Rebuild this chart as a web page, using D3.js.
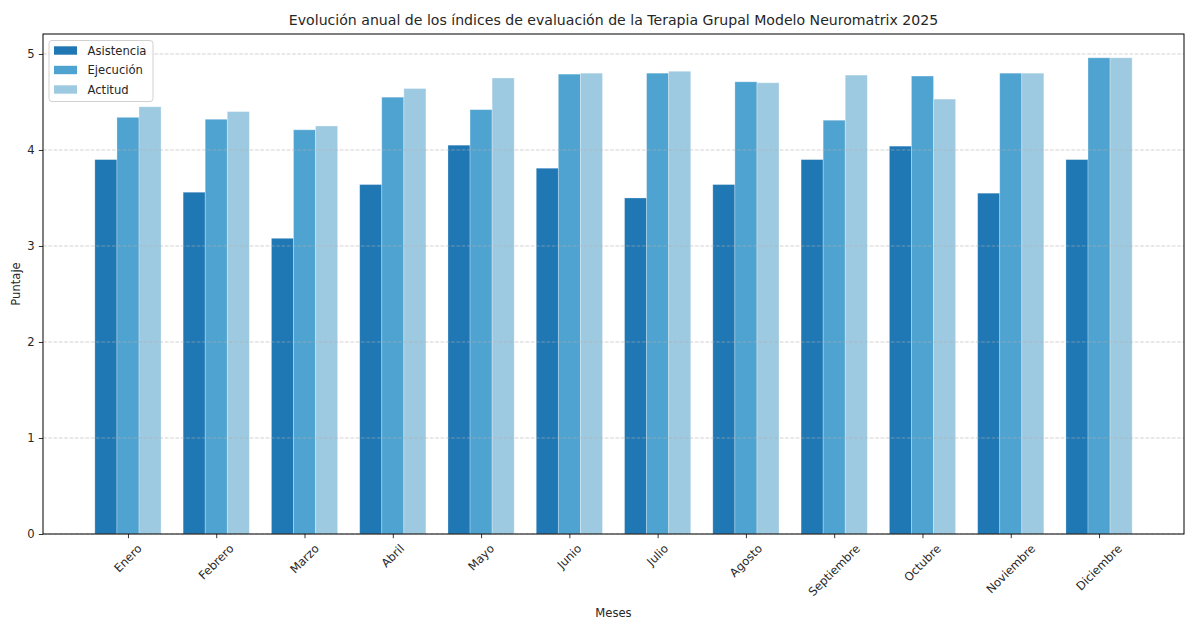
<!DOCTYPE html>
<html>
<head>
<meta charset="utf-8">
<script src="https://d3js.org/d3.v7.min.js"></script>
<style>
  body { margin: 0; background: #fff; }
  text { font-family: "DejaVu Sans", sans-serif; fill: #262626; }
</style>
</head>
<body>
<svg id="frame"></svg>
<script>
  // data
  var months = ["Enero", "Febrero", "Marzo", "Abril", "Mayo", "Junio", "Julio",
                "Agosto", "Septiembre", "Octubre", "Noviembre", "Diciembre"];
  var asistencia = [3.90, 3.56, 3.08, 3.64, 4.05, 3.81, 3.50, 3.64, 3.90, 4.04, 3.55, 3.90];
  var ejecucion  = [4.34, 4.32, 4.21, 4.55, 4.42, 4.79, 4.80, 4.71, 4.31, 4.77, 4.80, 4.96];
  var actitud    = [4.45, 4.40, 4.25, 4.64, 4.75, 4.80, 4.82, 4.70, 4.78, 4.53, 4.80, 4.96];
  var seriesNames = ["Asistencia", "Ejecución", "Actitud"];
  var yTicks = [0, 1, 2, 3, 4, 5];

  var series = [asistencia, ejecucion, actitud];
  var colors = ["#1f77b4", "#4fa3d1", "#9ecae1"];

  var W = 1192, H = 619;
  var fs = 11.6;     // tick / label font size
  var tick = 4.2;    // tick length and pad
  var margin = {top: 34, right: 8, bottom: 85, left: 43};
  var svg = d3.select('#frame').attr('width', W).attr('height', H);
  var plotW = W - margin.left - margin.right;
  var plotH = H - margin.top - margin.bottom;
  var g = svg.append('g').attr('transform', 'translate(' + margin.left + ',' + margin.top + ')');

  // matplotlib-like: bar width 0.25, 5% margins
  var bw = 0.25;
  var lo = -1.5 * bw, hi = months.length - 1 + 1.5 * bw;
  var pad = (hi - lo) * 0.05;
  var x = d3.scaleLinear().domain([lo - pad, hi + pad]).range([0, plotW]);
  var yMax = d3.max(series, function(s){ return d3.max(s); }) * 1.05;
  var y = d3.scaleLinear().domain([0, yMax]).range([plotH, 0]);

  // bars
  series.forEach(function(s, k){
    g.append('g').selectAll('rect')
      .data(s)
      .enter().append('rect')
      .attr('x', function(d, i){ return x(i + (k - 1.5) * bw); })
      .attr('y', function(d){ return y(d); })
      .attr('width', x(bw) - x(0))
      .attr('height', function(d){ return y(0) - y(d); })
      .attr('fill', colors[k])
      .attr('stroke', 'rgba(255,255,255,0.35)')
      .attr('stroke-width', 0.8);
  });

  // grid on top (dashed, light)
  g.append('g').selectAll('line')
    .data(yTicks)
    .enter().append('line')
    .attr('x1', 0).attr('x2', plotW)
    .attr('y1', function(d){ return y(d); })
    .attr('y2', function(d){ return y(d); })
    .attr('stroke', '#b0b0b0')
    .attr('stroke-opacity', 0.7)
    .attr('stroke-width', 0.8)
    .attr('stroke-dasharray', '3.7,1.6');

  // y axis
  var yAxis = g.append('g')
    .call(d3.axisLeft(y).tickValues(yTicks).tickSize(tick).tickPadding(tick).tickFormat(d3.format('d')));
  yAxis.select('.domain').remove();
  yAxis.selectAll('line').attr('stroke', '#000').attr('stroke-width', 0.8);
  yAxis.selectAll('text').style('font-size', fs + 'px').attr('fill', '#262626');

  // x axis
  var xAxis = g.append('g')
    .attr('transform', 'translate(0,' + plotH + ')')
    .call(d3.axisBottom(x).tickValues(d3.range(months.length)).tickSize(tick).tickFormat(''));
  xAxis.select('.domain').remove();
  xAxis.selectAll('line').attr('stroke', '#000').attr('stroke-width', 0.8);

  // rotated tick labels, bbox centred on tick (ha=center, rotation=45)
  months.forEach(function(m, i){
    var t = g.append('text')
      .style('font-size', fs + 'px')
      .attr('text-anchor', 'middle')
      .attr('dominant-baseline', 'central')
      .text(m);
    var L = t.node().getComputedTextLength();
    var half = (L + fs) / (2 * Math.SQRT2);
    var cx = x(i), cy = plotH + tick + tick + half;
    t.attr('transform', 'translate(' + cx + ',' + cy + ') rotate(-45)');
  });

  // frame
  g.append('rect')
    .attr('width', plotW).attr('height', plotH)
    .attr('fill', 'none').attr('stroke', '#000').attr('stroke-width', 1);

  // titles
  svg.append('text')
    .attr('x', margin.left + plotW / 2).attr('y', 25)
    .attr('text-anchor', 'middle')
    .style('font-size', '14.1px').attr('fill', '#000')
    .text('Evolución anual de los índices de evaluación de la Terapia Grupal Modelo Neuromatrix 2025');

  svg.append('text')
    .attr('x', margin.left + plotW / 2).attr('y', 617)
    .attr('text-anchor', 'middle')
    .style('font-size', fs + 'px')
    .text('Meses');

  svg.append('text')
    .attr('transform', 'translate(20,' + (margin.top + plotH / 2) + ') rotate(-90)')
    .attr('text-anchor', 'middle')
    .style('font-size', fs + 'px')
    .text('Puntaje');

  // legend
  var leg = g.append('g').attr('transform', 'translate(6,6.5)');
  leg.append('rect')
    .attr('width', 104).attr('height', 61).attr('rx', 3)
    .attr('fill', 'rgba(255,255,255,0.8)')
    .attr('stroke', '#d0d0d0').attr('stroke-width', 1);
  seriesNames.forEach(function(n, k){
    var row = leg.append('g').attr('transform', 'translate(0,' + (10 + k * 19.5) + ')');
    row.append('rect').attr('x', 5).attr('y', -4.2).attr('width', 23).attr('height', 8.4).attr('fill', colors[k]);
    row.append('text').attr('x', 38.5).attr('y', 0).attr('dominant-baseline', 'central')
      .style('font-size', fs + 'px').text(n);
  });
</script>
</body>
</html>
